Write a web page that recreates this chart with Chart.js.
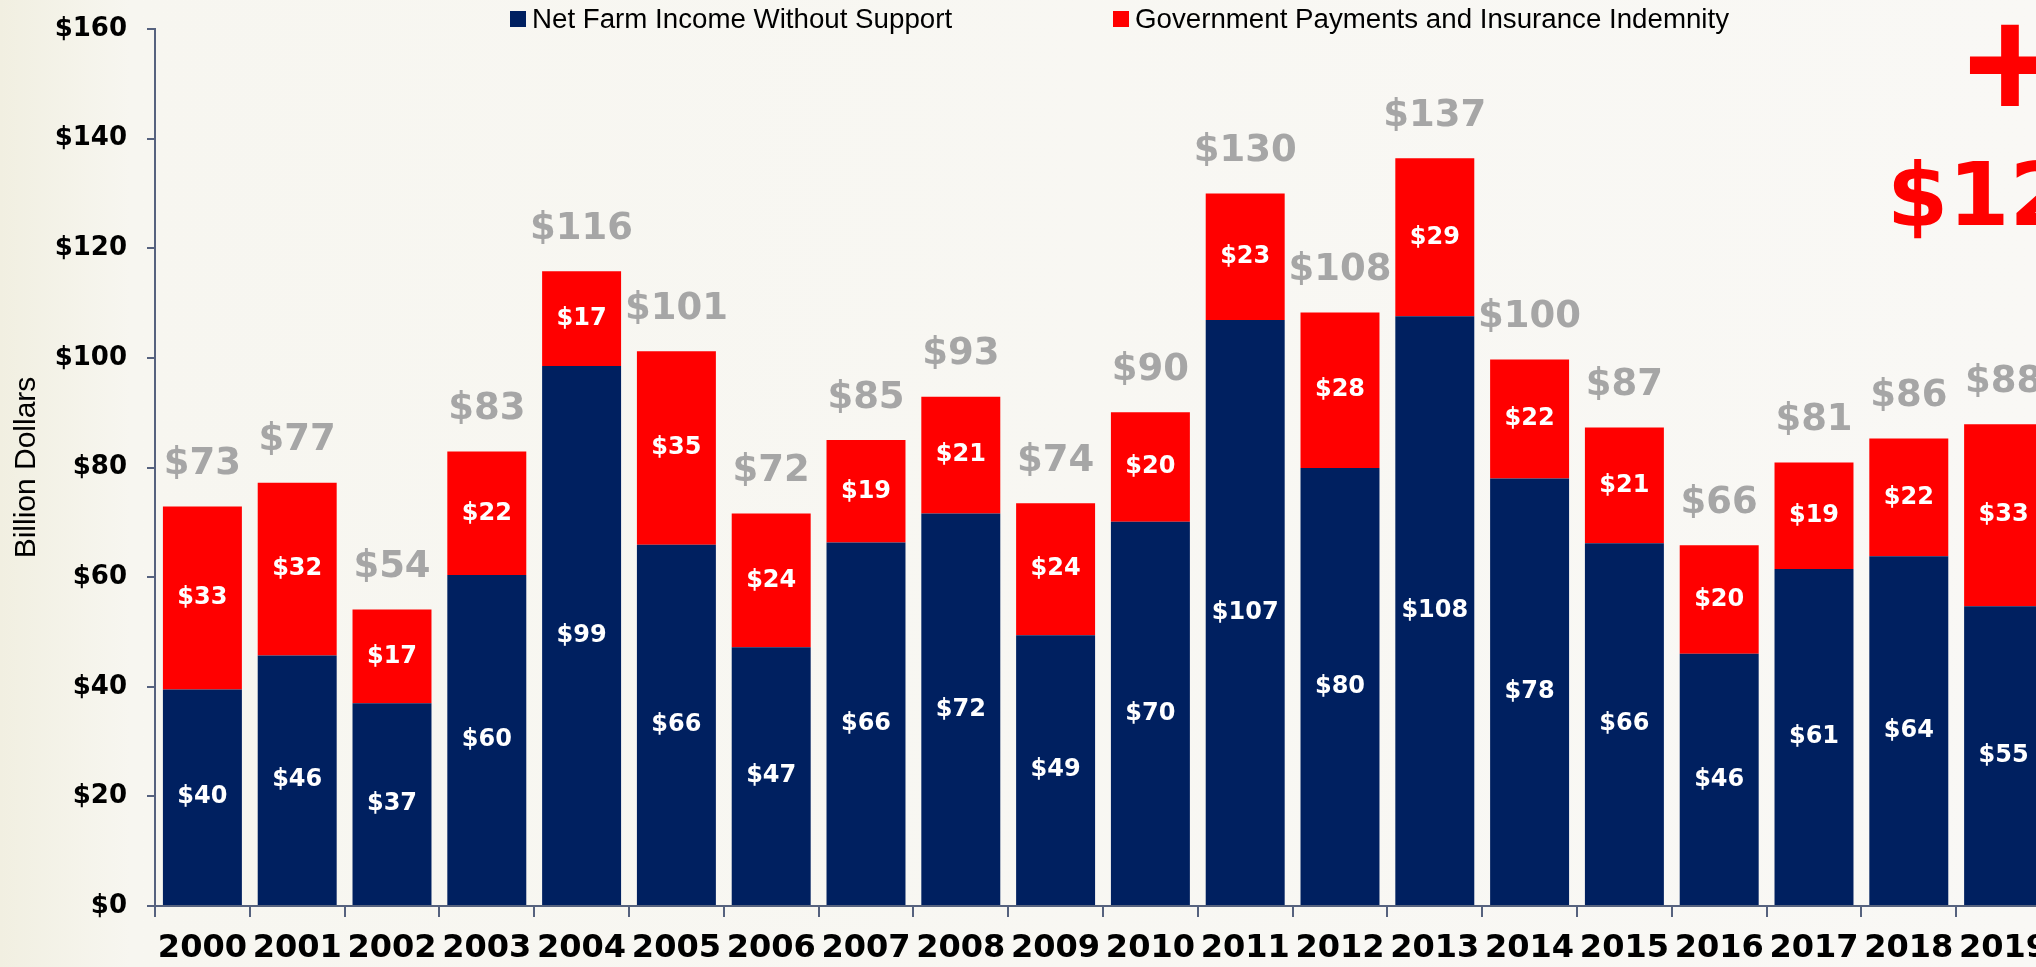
<!DOCTYPE html>
<html lang="en">
<head>
  <meta charset="UTF-8" />
  <title>Net Farm Income and Government Support</title>
  <script src="https://cdn.jsdelivr.net/npm/chart.js"></script>
  <style>
    html, body { margin: 0; padding: 0; overflow: hidden; }
    body {
      width: 2036px; height: 967px;
      background: linear-gradient(to right, #f1efe1 0px, #f7f6f0 130px, #f9f8f5 100%);
    }
    /* chart runs past the right edge like the original slide */
    #wrap { position: absolute; left: 0; top: 0; width: 2100px; height: 967px; }
  </style>
</head>
<body>
  <div id="wrap"><canvas id="farmChart"></canvas></div>

  <script>
    const years = ['2000','2001','2002','2003','2004','2005','2006','2007','2008','2009',
                   '2010','2011','2012','2013','2014','2015','2016','2017','2018','2019'];

    // bar heights (billion dollars)
    const netIncome = [39.5, 45.7, 37.0, 60.4, 98.5, 65.9, 47.2, 66.3, 71.6, 49.4,
                       70.1, 106.9, 79.9, 107.6, 78.0, 66.2, 46.0, 61.5, 63.8, 54.7];
    const govPayments = [33.4, 31.5, 17.1, 22.5, 17.3, 35.3, 24.4, 18.7, 21.3, 24.1,
                         20.0, 23.1, 28.4, 28.8, 21.7, 21.1, 19.8, 19.4, 21.5, 33.2];

    // printed labels as they appear on the chart
    const netLabels = [40, 46, 37, 60, 99, 66, 47, 66, 72, 49, 70, 107, 80, 108, 78, 66, 46, 61, 64, 55];
    const govLabels = [33, 32, 17, 22, 17, 35, 24, 19, 21, 24, 20, 23, 28, 29, 22, 21, 20, 19, 22, 33];
    const totalLabels = [73, 77, 54, 83, 116, 101, 72, 85, 93, 74, 90, 130, 108, 137, 100, 87, 66, 81, 86, 88];

    const seriesNames = ['Net Farm Income Without Support', 'Government Payments and Insurance Indemnity'];
    const seriesColors = ['#002060', '#ff0000'];
    const yTicks = [0, 20, 40, 60, 80, 100, 120, 140, 160];

    const AXIS = '#56627e';
    const BOLD = '"DejaVu Sans", sans-serif';

    // legend, bar labels and the "+$12" callout
    const overlayPlugin = {
      id: 'overlay',
      afterDatasetsDraw(chart) {
        const ctx = chart.ctx;
        ctx.save();
        ctx.textAlign = 'center';
        ctx.textBaseline = 'middle';

        const printed = [netLabels, govLabels];
        chart.data.datasets.forEach((ds, di) => {
          chart.getDatasetMeta(di).data.forEach((bar, i) => {
            ctx.fillStyle = '#ffffff';
            ctx.font = 'bold 24px ' + BOLD;
            ctx.fillText('$' + printed[di][i], bar.x, (bar.y + bar.base) / 2);
          });
        });

        const topMeta = chart.getDatasetMeta(1).data;
        ctx.fillStyle = '#a6a6a6';
        ctx.font = 'bold 37px ' + BOLD;
        topMeta.forEach((bar, i) => {
          ctx.fillText('$' + totalLabels[i], bar.x, bar.y - 42);
        });

        // legend
        const legendX = [510, 1113];
        ctx.textAlign = 'left';
        ctx.font = '27.7px "Liberation Sans", Arial, sans-serif';
        seriesNames.forEach((name, i) => {
          ctx.fillStyle = seriesColors[i];
          ctx.fillRect(legendX[i], 11, 16, 16);
          ctx.fillStyle = '#000000';
          ctx.fillText(name, legendX[i] + 22, 20);
        });

        // callout at the top right (cut off by the page edge)
        ctx.fillStyle = '#ff0000';
        ctx.textBaseline = 'alphabetic';
        ctx.textAlign = 'center';
        ctx.font = 'bold 160px "Liberation Sans", Arial, sans-serif';
        ctx.fillText('+', 2010, 119);
        ctx.textAlign = 'left';
        ctx.font = 'bold 88px ' + BOLD;
        ctx.fillText('$12', 1887, 225);

        ctx.restore();
      }
    };

    new Chart(document.getElementById('farmChart'), {
      type: 'bar',
      data: {
        labels: years,
        datasets: [
          {
            label: seriesNames[0],
            data: netIncome,
            backgroundColor: seriesColors[0],
            borderWidth: 0,
            barPercentage: 0.833,
            categoryPercentage: 1
          },
          {
            label: seriesNames[1],
            data: govPayments,
            backgroundColor: seriesColors[1],
            borderWidth: 0,
            barPercentage: 0.833,
            categoryPercentage: 1
          }
        ]
      },
      options: {
        responsive: true,
        maintainAspectRatio: false,
        animation: false,
        layout: { padding: { top: 29, right: 49, bottom: 0, left: 0 } },
        plugins: {
          legend: { display: false },
          tooltip: { enabled: false }
        },
        scales: {
          x: {
            stacked: true,
            afterFit: s => { s.height = 61; },
            border: { color: AXIS, width: 2 },
            grid: { drawOnChartArea: false, color: AXIS, lineWidth: 2, tickLength: 11 },
            ticks: {
              color: '#000000',
              padding: 12,
              maxRotation: 0,
              autoSkip: false,
              font: { family: BOLD, size: 32, weight: 'bold' }
            }
          },
          y: {
            stacked: true,
            min: 0,
            max: 160,
            afterFit: s => { s.width = 155; s.paddingTop = 0; s.paddingBottom = 0; },
            afterBuildTicks: s => { s.ticks = yTicks.map(v => ({ value: v })); },
            border: { color: AXIS, width: 2 },
            grid: { drawOnChartArea: false, color: AXIS, lineWidth: 2, tickLength: 8 },
            title: {
              display: true,
              text: 'Billion Dollars',
              color: '#000000',
              padding: { top: 9, bottom: 0 },
              font: { family: '"Liberation Sans", Arial, sans-serif', size: 30 }
            },
            ticks: {
              color: '#000000',
              padding: 20,
              callback: v => '$' + v,
              font: { family: BOLD, size: 26, weight: 'bold' }
            }
          }
        }
      },
      plugins: [overlayPlugin]
    });
  </script>
</body>
</html>
